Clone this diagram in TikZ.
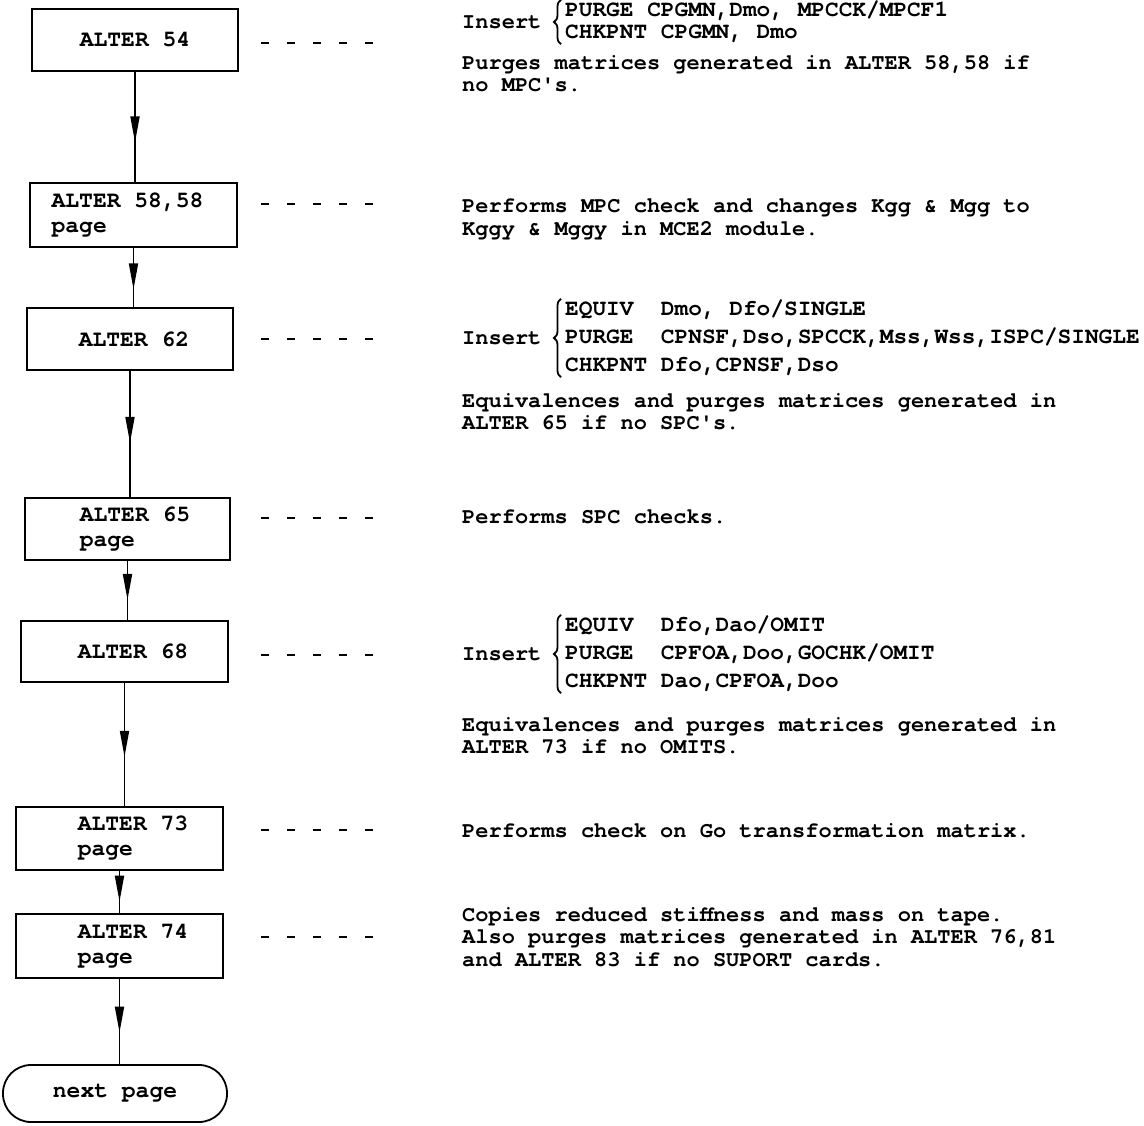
\documentclass[tikz,border=0pt]{standalone}
\usepackage{fontspec}
\newfontfamily\tw{TeX Gyre Cursor}
\usetikzlibrary{decorations.markings,decorations.pathreplacing,arrows.meta}
\begin{document}
\begin{tikzpicture}[x=1pt,y=-1pt,
  box/.style={draw, line width=1.8pt, font=\tw\bfseries\fontsize{23}{25}\selectfont, align=left, inner sep=0pt},
  desc/.style={anchor=north west, inner sep=0pt, align=left, font=\tw\bfseries\fontsize{22}{22.5}\selectfont},
  ins/.style={anchor=west, inner sep=0pt, font=\tw\bfseries\fontsize{22}{22.5}\selectfont},
  cmd/.style={anchor=west, inner xsep=0pt, inner ysep=1pt, align=left},
  cbrace/.style={decorate, decoration={brace, amplitude=7pt}, line width=1.8pt},
  flow/.style={line width=1.8pt, postaction={decorate},
    decoration={markings, mark=at position #1 with {\arrow{Triangle[length=26pt,width=9pt]}}}},
  flow/.default=0.65,
  leader/.style={line width=2.4pt, dash pattern=on 8pt off 18pt}]
\useasboundingbox (0,0) rectangle (1144,1126);

% boxes
\node[box, minimum width=206pt, minimum height=62pt] (a54) at (135,40) {ALTER 54};
\node[box, minimum width=207pt, minimum height=64pt] (a58) at (133.5,215) {ALTER 58,58\hspace*{12pt}\\page};
\node[box, minimum width=206pt, minimum height=62pt] (a62) at (130,339) {\hspace*{8pt}ALTER 62};
\node[box, minimum width=205pt, minimum height=62pt] (a65) at (127.5,529) {\hspace*{15pt}ALTER 65\\\hspace*{15pt}page};
\node[box, minimum width=207pt, minimum height=61pt] (a68) at (124.5,651.5) {\hspace*{17pt}ALTER 68};
\node[box, minimum width=207pt, minimum height=63pt] (a73) at (119.5,838.5) {\hspace*{27pt}ALTER 73\\\hspace*{27pt}page};
\node[box, minimum width=207pt, minimum height=64pt] (a74) at (119.5,946) {\hspace*{27pt}ALTER 74\\\hspace*{27pt}page};
\node[box, minimum width=224pt, minimum height=57pt, rounded corners=28pt] (nxt) at (115,1093.5) {next page};

% connectors
\draw[flow=0.64] (a54.south) -- (a54.south |- a58.north);
\draw[flow=0.70] (a58.south) -- (a58.south |- a62.north);
\draw[flow=0.57] (a62.south) -- (a62.south |- a65.north);
\draw[flow=0.66] (a65.south) -- (a65.south |- a68.north);
\draw[flow=0.60] (a68.south) -- (a68.south |- a73.north);
\draw[flow=0.73] (a73.south) -- (a73.south |- a74.north);
\draw[flow=0.63] (a74.south) -- (a74.south |- nxt.north);

% leaders
\draw[leader] ([shift={(22pt,-3pt)}]a54.east) -- ++(112,0);
\draw[leader] ([shift={(23pt,11pt)}]a58.east) -- ++(112,0);
\draw[leader] ([shift={(27pt,0pt)}]a62.east) -- ++(112,0);
\draw[leader] ([shift={(30pt,11pt)}]a65.east) -- ++(112,0);
\draw[leader] ([shift={(32pt,-3.5pt)}]a68.east) -- ++(112,0);
\draw[leader] ([shift={(37pt,8.5pt)}]a73.east) -- ++(112,0);
\draw[leader] ([shift={(37pt,9pt)}]a74.east) -- ++(112,0);

% group 1
\node[ins] (i1) at (462,22) {Insert};
\node[cmd, font=\tw\bfseries\fontsize{22.8}{22}\selectfont] (c1) at (565,22) {PURGE CPGMN,Dmo, MPCCK/MPCF1\\CHKPNT CPGMN, Dmo};
\draw[cbrace] ([xshift=-4pt]c1.south west) -- ([xshift=-4pt]c1.north west);
\node[desc] (p1) at (462,55) {Purges matrices generated in ALTER 58,58 if\\no MPC\textquotesingle s.};
\node[desc] (p2) at (462,199) {Performs MPC check and changes Kgg \& Mgg to\\Kggy \& Mggy in MCE2 module.};

% group 2
\node[ins] (i2) at (462,338) {Insert};
\node[cmd, font=\tw\bfseries\fontsize{22.8}{28}\selectfont] (c2) at (565,338) {EQUIV\ \ Dmo, Dfo/SINGLE\\PURGE\ \ CPNSF,Dso,SPCCK,Mss,Wss,ISPC/SINGLE\\CHKPNT Dfo,CPNSF,Dso};
\draw[cbrace] ([xshift=-4pt]c2.south west) -- ([xshift=-4pt]c2.north west);
\node[desc] (p3) at (462,393) {Equivalences and purges matrices generated in\\ALTER 65 if no SPC\textquotesingle s.};
\node[desc] (p4) at (462,510) {Performs SPC checks.};

% group 3
\node[ins] (i3) at (462,654) {Insert};
\node[cmd, font=\tw\bfseries\fontsize{22.8}{28}\selectfont] (c3) at (565,654) {EQUIV\ \ Dfo,Dao/OMIT\\PURGE\ \ CPFOA,Doo,GOCHK/OMIT\\CHKPNT Dao,CPFOA,Doo};
\draw[cbrace] ([xshift=-4pt]c3.south west) -- ([xshift=-4pt]c3.north west);
\node[desc] (p5) at (462,717) {Equivalences and purges matrices generated in\\ALTER 73 if no OMITS.};
\node[desc] (p6) at (462,823) {Performs check on Go transformation matrix.};
\node[desc] (p7) at (462,907) {Copies reduced stiffness and mass on tape.\\Also purges matrices generated in ALTER 76,81\\and ALTER 83 if no SUPORT cards.};
\end{tikzpicture}
\end{document}
